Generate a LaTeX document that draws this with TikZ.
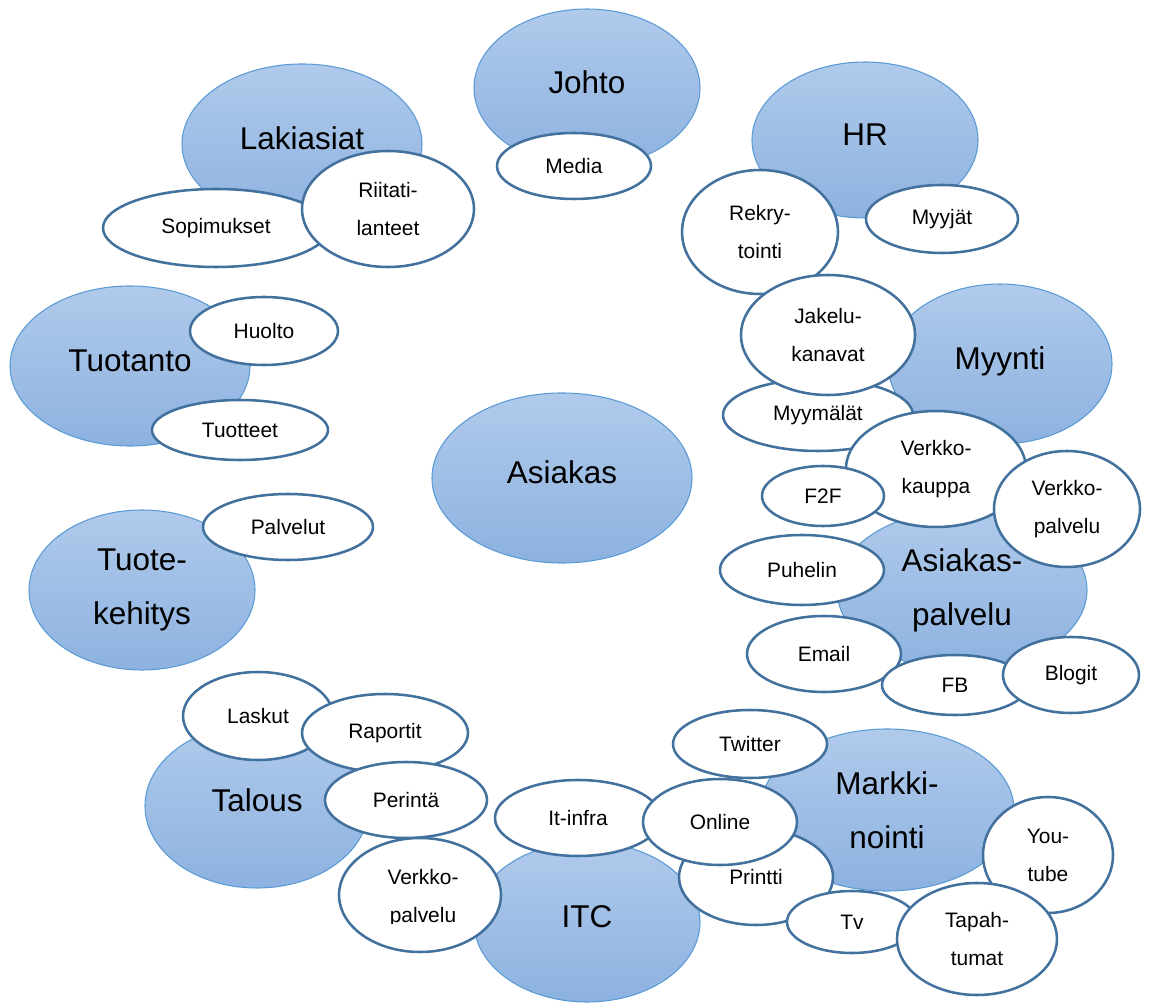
\documentclass[tikz,border=0pt]{standalone}
\usepackage{fontspec}
\setmainfont{Liberation Sans}
\usetikzlibrary{shapes.geometric}
\definecolor{bluetop}{RGB}{176,202,235}
\definecolor{bluebot}{RGB}{141,178,224}
\definecolor{blueline}{RGB}{91,155,213}
\definecolor{wline}{RGB}{65,113,156}
\tikzset{
  sz/.style 2 args={minimum width=#1*1.5pt, minimum height=#2*1.5pt},
  area/.style={ellipse, draw=blueline, line width=0.8pt, top color=bluetop,
    bottom color=bluebot, inner sep=0pt, align=center,
    font=\fontsize{23.6}{40.5}\selectfont},
  % single-line department names sit a little above the middle
  oneline/.style={text height=18pt, text depth=10pt},
  topic/.style={ellipse, draw=wline, line width=1.9pt, fill=white, inner sep=0pt,
    align=center, font=\fontsize{15.7}{28.5}\selectfont},
  topictext/.style={inner sep=0pt, align=center, font=\fontsize{15.7}{28.5}\selectfont},
}
\begin{document}
\begin{tikzpicture}[x=0.75pt, y=-0.75pt]
\path[use as bounding box] (0,0) rectangle (1165,1005);

% departments
\node[area, oneline, sz={113}{79}] (johto) at (587,88) {Johto};
\node[area, oneline, sz={120}{80}] (lakiasiat) at (302,144) {Lakiasiat};
\node[area, oneline, sz={113}{78}] (hr) at (865,140) {HR};
\node[area, oneline, sz={120}{80}] (tuotanto) at (130,366) {Tuotanto};
\node[area, oneline, sz={112}{80}] (myynti) at (1000,364) {Myynti};
\node[area, oneline, sz={130}{85}] (asiakas) at (562,478) {Asiakas};
\node[area, sz={113}{80}] (tuotekehitys) at (142,590) {Tuote-\\kehitys};
\node[area, sz={125}{80}] (asiakaspalvelu) at (962,590) {Asiakas-\\palvelu};
\node[area, sz={127}{81}] (markkinointi) at (887,810) {Markki-\\nointi};
\node[area, oneline, sz={112}{82}] (talous) at (257,806) {Talous};
\node[area, oneline, sz={113}{80}] (itc) at (587,922) {ITC};

% topics
\node[topic, sz={77}{33}] (media) at (574,166) {Media};
\node[topic, sz={113}{39}] (sopimukset) at (216,228) {Sopimukset};
\node[topic, sz={86}{58}] (riitati) at (388,209) {Riitati-\\lanteet};
\node[topic, sz={78}{62}] (rekry) at (760,232) {Rekry-\\tointi};
\node[topic, sz={76}{34}] (myyjat) at (942,219) {Myyjät};
\node[topic, sz={95}{36}] (myymalat) at (818,415) {Myymälät};
\node[topic, sz={87}{60}] (jakelu) at (828,335) {Jakelu-\\kanavat};
\node[topic, sz={90}{58}] (verkkokauppa) at (936,469) {Verkko-\\kauppa};
\node[topic, sz={61}{30}] (f2f) at (823,496) {F2F};
\node[topic, sz={73}{58}] (verkkopalvelu) at (1067,509) {Verkko-\\palvelu};
\node[topic, sz={82}{35}] (puhelin) at (802,570) {Puhelin};
\node[topic, sz={77}{38}] (email) at (824,654) {Email};
\node[topic, sz={73}{30}] (fb) at (955,685) {FB};
\node[topic, sz={68}{38}] (blogit) at (1071,675) {Blogit};
\node[topic, sz={74}{34}] (huolto) at (264,331) {Huolto};
\node[topic, sz={88}{30}] (tuotteet) at (240,430) {Tuotteet};
\node[topic, sz={85}{33}] (palvelut) at (288,527) {Palvelut};
\node[topic, sz={75}{44}] (laskut) at (258,716) {Laskut};
\node[topic, sz={83}{39}] (raportit) at (385,733) {Raportit};
\node[topic, sz={81}{38}] (perinta) at (406,800) {Perintä};
\node[topic, sz={81}{57}] (verkkopalvelu2) at (420,895) {};
\begin{scope}
  \clip (330,830) rectangle (510,923);
  \node[topictext] (verkkopalvelu2-text) at (423,898) {Verkko-\\palvelu};
\end{scope}
\node[topic, sz={83}{38}] (itinfra) at (578,818) {It-infra};
\node[topic, sz={77}{48}] (printti) at (756,877) {Printti};
\node[topic, sz={77}{43}] (online) at (720,822) {Online};
\node[topic, sz={77}{34}] (twitter) at (750,744) {Twitter};
\node[topic, sz={65}{31}] (tv) at (852,922) {Tv};
\node[topic, sz={65}{58}] (youtube) at (1048,855) {You-\\tube};
\node[topic, sz={80}{56}] (tapahtumat) at (977,939) {Tapah-\\tumat};
\end{tikzpicture}
\end{document}
